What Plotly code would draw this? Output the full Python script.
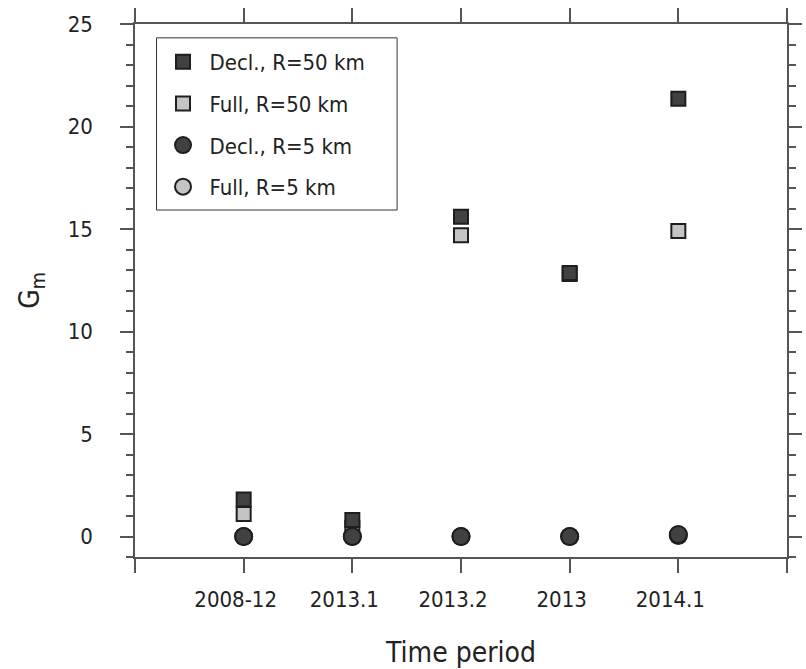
import plotly.graph_objects as go

categories = ["2008-12", "2013.1", "2013.2", "2013", "2014.1"]
decl_50 = [1.8, 0.8, 15.6, 12.85, 21.35]
full_50 = [1.1, 0.4, 14.7, 12.8, 14.9]
decl_5 = [0.0, 0.0, 0.0, 0.0, 0.1]
full_5 = [0.0, 0.0, 0.0, 0.0, 0.05]

x_idx = list(range(len(categories)))

FONT = "DejaVu Sans Condensed, Liberation Sans Narrow, Arial Narrow, sans-serif"
TXT = "#222222"
DARK = "#414141"
LIGHT = "#c4c4c4"
EDGE = "#1e1e1e"
AX = "#555555"

fig = go.Figure()
fig.add_trace(go.Scatter(x=x_idx, y=full_50, mode="markers", name="Full, R=50 km", legendrank=2, legendgroup="b",
                         marker=dict(symbol="square", size=14, color=LIGHT, line=dict(color=EDGE, width=2))))
fig.add_trace(go.Scatter(x=x_idx, y=decl_50, mode="markers", name="Decl., R=50 km", legendrank=1, legendgroup="a",
                         marker=dict(symbol="square", size=14, color=DARK, line=dict(color=EDGE, width=2))))
fig.add_trace(go.Scatter(x=x_idx, y=full_5, mode="markers", name="Full, R=5 km", legendrank=4, legendgroup="d",
                         marker=dict(symbol="circle", size=17, color=LIGHT, line=dict(color=EDGE, width=2))))
fig.add_trace(go.Scatter(x=x_idx, y=decl_5, mode="markers", name="Decl., R=5 km", legendrank=3, legendgroup="c",
                         marker=dict(symbol="circle", size=17, color=DARK, line=dict(color=EDGE, width=2))))

axis_common = dict(showgrid=False, zeroline=False, showline=True, linecolor=AX, linewidth=1.5,
                   mirror="allticks", ticks="outside", tickcolor=AX, tickwidth=1.5,
                   tickfont=dict(family=FONT, size=22, color=TXT))

# legend frame (paper coordinates relative to the plot area)
fig.add_shape(type="rect", xref="paper", yref="paper", x0=0.033, x1=0.402, y0=0.651, y1=0.974,
              line=dict(color="#333333", width=1), fillcolor="white", layer="below")

fig.update_layout(
    width=806, height=669,
    margin=dict(l=135, r=4, t=24, b=112),
    paper_bgcolor="white", plot_bgcolor="white",
    font=dict(family=FONT, color=TXT),
    xaxis=dict(range=[-1, len(categories)], tickmode="array", tickvals=x_idx, ticktext=categories,
               ticklen=14, ticklabelstandoff=8, ticklabelshift=-8,
               minor=dict(tickmode="linear", tick0=-1, dtick=1, ticks="outside", ticklen=14,
                          tickcolor=AX, tickwidth=1.5),
               title=dict(text="Time period", font=dict(family=FONT, size=28, color=TXT), standoff=32),
               **axis_common),
    yaxis=dict(range=[-1, 25], tickmode="linear", tick0=0, dtick=5, ticklen=13, ticklabelstandoff=23,
               minor=dict(dtick=1, tick0=0, ticks="outside", ticklen=7, tickcolor=AX, tickwidth=1.5),
               title=dict(text="G<sub>m</sub>", font=dict(family=FONT, size=28, color=TXT), standoff=20),
               **axis_common),
    legend=dict(x=0.033, y=0.968, xanchor="left", yanchor="top", bgcolor="rgba(0,0,0,0)",
                borderwidth=0, itemwidth=43, tracegroupgap=10,
                font=dict(family=FONT, size=22, color=TXT)),
    showlegend=True,
)

fig.write_html("out.html")
